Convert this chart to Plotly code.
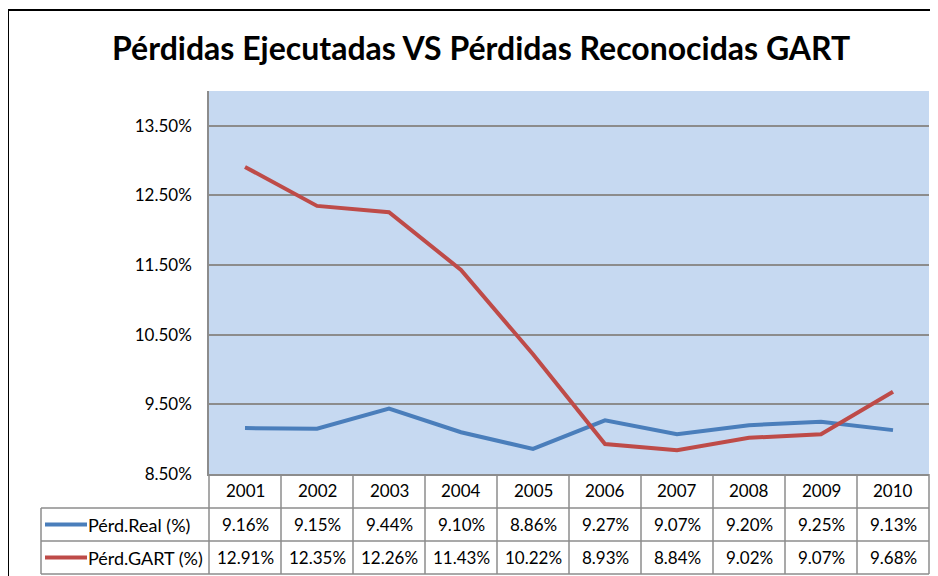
import plotly.graph_objects as go

years = ['2001', '2002', '2003', '2004', '2005', '2006', '2007', '2008', '2009', '2010']
real = [9.16, 9.15, 9.44, 9.10, 8.86, 9.27, 9.07, 9.20, 9.25, 9.13]
gart = [12.91, 12.35, 12.26, 11.43, 10.22, 8.93, 8.84, 9.02, 9.07, 9.68]
series_names = ['Pérd.Real (%)', 'Pérd.GART (%)']
series_colors = ['#4a7ebb', '#be4b48']
y_tickvals = [8.5, 9.5, 10.5, 11.5, 12.5, 13.5]
y_ticktext = ['8.50%', '9.50%', '10.50%', '11.50%', '12.50%', '13.50%']
title = 'Pérdidas Ejecutadas VS Pérdidas Reconocidas GART'

# page is offset by the 8px body margin; work in page pixel coordinates
OFF = 8
W, H = 938 - OFF, 576 - OFF
PL, PR, PT, PB = 209, 929, 91, 474   # plot area in page pixels
L, R, T, B = PL - OFF, 938 - PR, PT - OFF, 576 - PB
PW, PH = PR - PL, PB - PT

def px_x(x):
    return (x - PL) / PW

def px_y(y):
    return (PB - y) / PH

FONT = 'Lato'
GRID = '#8c8c8c'
n = len(years)
xpos = list(range(n))

fig = go.Figure()
for name, vals, col in zip(series_names, [real, gart], series_colors):
    fig.add_trace(go.Scatter(x=xpos, y=vals, mode='lines', name=name,
                             line=dict(color=col, width=4), showlegend=False))

shapes = []
annotations = []

# outer chart border
shapes.append(dict(type='rect', xref='paper', yref='paper',
                   x0=px_x(8), x1=px_x(990), y0=px_y(640), y1=px_y(10),
                   line=dict(color='black', width=2), fillcolor='rgba(0,0,0,0)', layer='below'))

row_top, row1, row2, row_bot = 474, 508, 541, 574
leg_left = 41

for yy in [row1, row2, row_bot]:
    shapes.append(dict(type='line', xref='paper', yref='paper',
                       x0=px_x(leg_left), x1=1, y0=px_y(yy), y1=px_y(yy),
                       line=dict(color=GRID, width=1.5)))
for i in range(n + 1):
    xp = i / n
    shapes.append(dict(type='line', xref='paper', yref='paper',
                       x0=xp, x1=xp, y0=px_y(row_top), y1=px_y(row_bot),
                       line=dict(color=GRID, width=1.5)))
shapes.append(dict(type='line', xref='paper', yref='paper',
                   x0=px_x(leg_left), x1=px_x(leg_left), y0=px_y(row1), y1=px_y(row_bot),
                   line=dict(color=GRID, width=1.5)))

TS = 17
for i, yr in enumerate(years):
    annotations.append(dict(x=i, y=px_y((row_top + row1) / 2), xref='x', yref='paper',
                            text=yr, showarrow=False, font=dict(family=FONT, size=TS, color='black'),
                            xanchor='center', yanchor='middle'))

for (top, bot), name, vals, col in zip([(row1, row2), (row2, row_bot)], series_names,
                                       [real, gart], series_colors):
    yc = px_y((top + bot) / 2)
    for i, v in enumerate(vals):
        annotations.append(dict(x=i, y=yc, xref='x', yref='paper',
                                text=f'{v:.2f}%', showarrow=False,
                                font=dict(family=FONT, size=TS, color='black'),
                                xanchor='center', yanchor='middle'))
    shapes.append(dict(type='line', xref='paper', yref='paper',
                       x0=px_x(45), x1=px_x(87), y0=yc, y1=yc,
                       line=dict(color=col, width=4)))
    annotations.append(dict(x=px_x(86), y=yc, xref='paper', yref='paper',
                            text=name, showarrow=False,
                            font=dict(family=FONT, size=18, color='black'),
                            xanchor='left', yanchor='middle'))

annotations.append(dict(x=px_x(481), y=px_y(47), xref='paper', yref='paper',
                        text=f'<b>{title}</b>', showarrow=False,
                        font=dict(family=FONT, size=32, color='black'),
                        xanchor='center', yanchor='middle'))

fig.update_layout(
    width=W, height=H,
    margin=dict(l=L, r=R, t=T, b=B),
    paper_bgcolor='white', plot_bgcolor='#c6d9f1',
    shapes=shapes, annotations=annotations,
    xaxis=dict(range=[-0.5, n - 0.5], showticklabels=False,
               showgrid=False, zeroline=False, showline=True, linecolor=GRID, linewidth=1.5,
               ticks=''),
    yaxis=dict(range=[8.5, 14.0], tickvals=y_tickvals, ticktext=y_ticktext,
               showgrid=True, gridcolor=GRID, gridwidth=1.5, zeroline=False,
               showline=True, linecolor=GRID, linewidth=1.5, ticks='',
               ticklabelstandoff=12,
               tickfont=dict(family=FONT, size=17, color='black')),
)

fig.write_html('out.html')
